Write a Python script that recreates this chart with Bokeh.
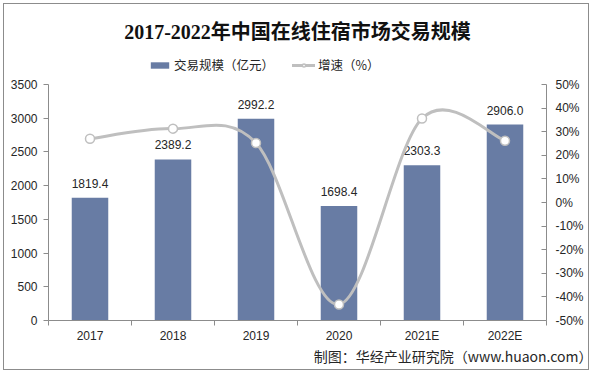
import numpy as np
from bokeh.plotting import figure
from bokeh.models import (ColumnDataSource, Range1d, LinearAxis, FixedTicker,
                          PrintfTickFormatter, Legend, LegendItem, Title, InlineStyleSheet)
from bokeh.core.properties import value
from bokeh.embed import file_html
from bokeh.resources import INLINE

# ---- data ----
categories = ["2017", "2018", "2019", "2020", "2021E", "2022E"]
scale_values = [1819.4, 2389.2, 2992.2, 1698.4, 2303.3, 2906.0]   # 交易规模（亿元）
growth_values = [27.0, 31.3, 25.2, -43.2, 35.6, 26.2]             # 增速（%）
left_ticks = [0, 500, 1000, 1500, 2000, 2500, 3000, 3500]
right_ticks = [-50, -40, -30, -20, -10, 0, 10, 20, 30, 40, 50]

TITLE = "2017-2022年中国在线住宿市场交易规模"
SOURCE = "制图：华经产业研究院（www.huaon.com）"
LEG_BAR = "交易规模（亿元）"
LEG_LINE = "增速（%）"

n = len(categories)
xs = np.arange(n) + 0.5
bounds = list(np.arange(n + 1).astype(float))

BAR = "#687CA4"
LINE = "#BFBFBF"
AXIS = "#8C8C8C"
TXT = "#262626"
SANS = "Liberation Sans"
CJK = "Noto Sans CJK SC"

W, H = 592, 373
AX_TOP, AX_BOTTOM, FRAME_TOP = 84, 320, 44      # pixel layout of the axes
stretch = (AX_BOTTOM - FRAME_TOP) / (AX_BOTTOM - AX_TOP)
y_lo, y_hi = left_ticks[0], left_ticks[-1]
r_lo, r_hi = right_ticks[0], right_ticks[-1]

p = figure(width=W, height=H, output_backend="svg", toolbar_location=None,
           x_range=Range1d(0, n),
           y_range=Range1d(y_lo, y_lo + (y_hi - y_lo) * stretch),
           min_border_left=48, min_border_right=46, min_border_top=FRAME_TOP,
           min_border_bottom=H - AX_BOTTOM)
p.stylesheets = [InlineStyleSheet(css=".bk-Canvas { outline: 1px solid #8C8C8C; outline-offset: -4px; }")]
p.extra_y_ranges = {"pct": Range1d(r_lo, r_lo + (r_hi - r_lo) * stretch)}
p.outline_line_color = None
p.xgrid.visible = False
p.ygrid.visible = False
p.background_fill_color = "white"
p.border_fill_color = "white"
p.border_fill_alpha = 0

src = ColumnDataSource(dict(x=xs, v=scale_values, g=growth_values,
                            lbl=[f"{v:.1f}" for v in scale_values]))

bars = p.vbar(x="x", top="v", width=0.44, source=src, fill_color=BAR, line_color=None)
p.text(x="x", y="v", text="lbl", source=src, text_align="center", text_baseline="bottom",
       y_offset=-10, text_font=value(SANS), text_font_size="12px", text_color=TXT)

# smoothed growth line (Catmull-Rom style Bezier through the data points)
g = np.array(growth_values, dtype=float)
gp = np.concatenate([[g[0]], g, [g[-1]]])
xp = np.concatenate([[xs[0]], xs, [xs[-1]]])
seg = dict(x0=[], y0=[], x1=[], y1=[], cx0=[], cy0=[], cx1=[], cy1=[])
for i in range(n - 1):
    a, b, c, d = i, i + 1, i + 2, i + 3
    seg["x0"].append(xp[b]); seg["y0"].append(gp[b])
    seg["x1"].append(xp[c]); seg["y1"].append(gp[c])
    seg["cx0"].append(xp[b] + (xp[c] - xp[a]) / 6); seg["cy0"].append(gp[b] + (gp[c] - gp[a]) / 6)
    seg["cx1"].append(xp[c] - (xp[d] - xp[b]) / 6); seg["cy1"].append(gp[c] - (gp[d] - gp[b]) / 6)
bez = p.bezier(x0="x0", y0="y0", x1="x1", y1="y1", cx0="cx0", cy0="cy0", cx1="cx1", cy1="cy1",
               source=ColumnDataSource(seg), line_color=LINE, line_width=3,
               line_cap="round", y_range_name="pct")
pts = p.scatter(x="x", y="g", source=src, size=9, fill_color="white", line_color=LINE,
                line_width=1.5, y_range_name="pct")

# axes
xa = p.xaxis[0]
xa.ticker = FixedTicker(ticks=list(xs), minor_ticks=bounds)
xa.major_label_overrides = {float(x): c for x, c in zip(xs, categories)}
xa.major_tick_line_color = None
xa.major_tick_out = 5
xa.major_tick_in = 0
xa.minor_tick_out = 5
xa.minor_tick_in = 0
xa.minor_tick_line_color = AXIS
xa.axis_line_color = AXIS
xa.major_label_text_font = SANS
xa.major_label_text_font_size = "12px"
xa.major_label_text_color = TXT
xa.major_label_standoff = 3

ya = p.yaxis[0]
ya.ticker = FixedTicker(ticks=left_ticks)
ya.bounds = (y_lo, y_hi)
ya.major_tick_out = 5
ya.major_tick_in = 0
ya.minor_tick_line_color = None
ya.axis_line_color = AXIS
ya.major_tick_line_color = AXIS
ya.major_label_text_font = SANS
ya.major_label_text_font_size = "12px"
ya.major_label_text_color = TXT
ya.major_label_standoff = 6

ra = LinearAxis(y_range_name="pct", ticker=FixedTicker(ticks=right_ticks),
                formatter=PrintfTickFormatter(format="%d%%"), bounds=(r_lo, r_hi))
ra.major_tick_in = 5
ra.major_tick_out = 0
ra.minor_tick_line_color = None
ra.axis_line_color = AXIS
ra.major_tick_line_color = AXIS
ra.major_label_text_font = SANS
ra.major_label_text_font_size = "12px"
ra.major_label_text_color = TXT
ra.major_label_standoff = 9
p.add_layout(ra, "right")

# legend inside the (extended) frame, above the axes' top
legend = Legend(items=[LegendItem(label=LEG_BAR, renderers=[bars]),
                       LegendItem(label=LEG_LINE, renderers=[bez, pts])],
                orientation="horizontal", location=(100, 246),
                label_text_font=CJK, label_text_font_size="12.5px", label_text_color=TXT,
                glyph_width=23, glyph_height=8, label_standoff=3, spacing=18,
                padding=0, margin=0, border_line_color=None, background_fill_alpha=0,
                label_height=14)
p.add_layout(legend, "center")

# title
p.add_layout(Title(text=TITLE, align="center", offset=2, standoff=4,
                   text_font="Liberation Serif, 'Noto Sans CJK SC'", text_font_style="bold",
                   text_font_size="20px", text_color="#111111"), "above")

# source note below the x axis
p.add_layout(Title(text=SOURCE, align="right", offset=-46, standoff=-4,
                   text_font=CJK, text_font_style="normal",
                   text_font_size="14px", text_color=TXT), "below")

open("out.html", "w").write(file_html(p, INLINE))
